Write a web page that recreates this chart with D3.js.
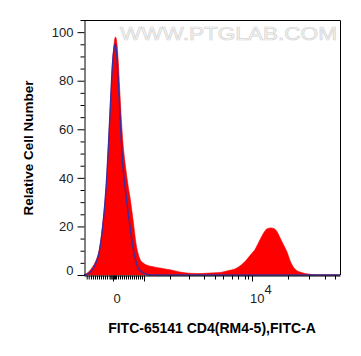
<!DOCTYPE html>
<html><head><meta charset="utf-8">
<script src="https://cdn.jsdelivr.net/npm/d3@7"></script>
<style>body{margin:0;background:#fff}svg{display:block}</style>
</head><body>
<svg id="c" width="361" height="356"></svg>
<script>
// Histogram data in display channels (0-256, biexponential FITC-A axis)
const redChannels = [0,4,8,12,15,17,19,21,22.5,24,25.5,27,28.5,30,31.5,33,34.5,36,37.5,39,40.5,42,44,46,48,50,52,54,56,59,63,68,74,81,88,96,106,116,126,136,144,151,157,162,167,171,176,180,183,187,190,193,197,200,203,206,209,213,216,221,226,232,256];
const redCounts   = [0,1,3,6,10,15,22,30,38,50,62,75,87,95,98,95,86,74,63,54,48,43,37,32,26,19.5,13,9,6.5,5,4,3.5,3,2.5,2,1.2,0.7,0.6,0.8,1,1.8,2.5,4,6,8.5,10.5,14.5,17.5,19,19.4,19.1,17.8,14.5,12,9.5,6,3.5,1.8,1.2,0.6,0.3,0,0];
const blueChannels = [0,4,8,12,15,17,19,21,23,25,27,28.5,30,31,32.5,34,35.5,37,38.5,40,42,44,46,48,50,52,54,57,61,66,256];
const blueCounts   = [0,0.5,2,5,9,14,21,30,42,58,75,87,93,95,92,82,70,57,47,40,33,26,20,14,9,5.5,3,1.5,0.5,0,0];
// Axis ticks (channel positions)
const xMajorTicks = [29, 60, 168];
const xMajorLabels = ["0", "", "10|4"];
const xMinorTicks = [2.7,4.7,7,9,11,13,15,17,19,21,23,25.5,26.5,27.5,28.5,30,31,32,34,36,38,40,42,44,46,48,50,52,54,56,58,86,105,120,131,139,148,154,161,164,204,225,241,251];
const yMajorTicks = [0,20,40,60,80,100];
const yMinorTicks = [5,10,15,25,30,35,45,50,55,65,70,75,85,90,95,105];
const xTitle = "FITC-65141 CD4(RM4-5),FITC-A";
const yTitle = "Relative Cell Number";
const watermark = "WWW.PTGLAB.COM";

const svg = d3.select("#c");
const x = d3.scaleLinear().domain([0,256]).range([84,340]);
const y = d3.scaleLinear().domain([0,105]).range([275,20]);

// watermark
svg.append("text").attr("x",120).attr("y",40)
  .attr("font-family","Liberation Sans, Arial, sans-serif").attr("font-size",17.5)
  .attr("fill","#f8f8f8").attr("stroke","#d6d6d6").attr("stroke-width",0.7)
  .attr("textLength",217).attr("lengthAdjust","spacingAndGlyphs")
  .text(watermark);

const red = redChannels.map((c,i)=>[c,redCounts[i]]);
const blue = blueChannels.map((c,i)=>[c,blueCounts[i]]);

svg.append("path").datum(red)
  .attr("d", d3.area().x(d=>x(d[0])).y0(y(0)).y1(d=>y(d[1])).curve(d3.curveMonotoneX))
  .attr("fill","#ff0000").attr("stroke","#f00000").attr("stroke-width",0.6);

svg.append("path").datum(blue)
  .attr("d", d3.line().x(d=>x(d[0])).y(d=>y(d[1])).curve(d3.curveMonotoneX))
  .attr("fill","none").attr("stroke","#3b2ca0").attr("stroke-width",1.4);

// frame
svg.append("path").attr("d",`M${x(0)},${y(105)+0.5}H${x(256)+0.5}V${y(0)}`)
  .attr("fill","none").attr("stroke","#000").attr("stroke-width",1);

// y axis
const gy = svg.append("g").attr("transform","translate(84.5,0)");
gy.call(d3.axisLeft(y).tickValues(yMajorTicks).tickSize(7).tickPadding(4).tickSizeOuter(0));
gy.append("g").call(d3.axisLeft(y).tickValues(yMinorTicks).tickSize(4).tickFormat("").tickSizeOuter(0))
  .select(".domain").remove();
gy.selectAll("text").attr("font-family","Liberation Sans, Arial, sans-serif").attr("font-size",13).attr("fill","#222");
gy.selectAll(".tick").filter(d=>d===0).select("text").attr("dy","-0.05em");
gy.selectAll("line,path").attr("stroke","#000");

// x axis
const gx = svg.append("g").attr("transform","translate(0,275.5)");
gx.call(d3.axisBottom(x).tickValues(xMajorTicks).tickSize(6).tickFormat("").tickSizeOuter(0));
gx.append("g").call(d3.axisBottom(x).tickValues(xMinorTicks).tickSize(4).tickFormat("").tickSizeOuter(0))
  .select(".domain").remove();
gx.selectAll("line,path").attr("stroke","#000");

const lab = svg.append("g").attr("font-family","Liberation Sans, Arial, sans-serif").attr("font-size",13).attr("fill","#222");
xMajorTicks.forEach((t,i)=>{
  const l = xMajorLabels[i];
  if(!l) return;
  if(l.includes("|")){
    const [b,e] = l.split("|");
    const tx = lab.append("text").attr("x",x(t)-2).attr("y",303);
    tx.append("tspan").text(b);
    tx.append("tspan").attr("dy",-9).attr("font-size",13).text(e);
  } else {
    lab.append("text").attr("x",x(t)+4).attr("y",303).attr("text-anchor","middle").text(l);
  }
});

// titles
svg.append("text").attr("x",212).attr("y",333).attr("text-anchor","middle")
  .attr("font-family","Liberation Sans, Arial, sans-serif").attr("font-weight","bold").attr("font-size",14)
  .attr("fill","#000").text(xTitle);
svg.append("text").attr("transform","translate(33,148) rotate(-90)").attr("text-anchor","middle")
  .attr("font-family","Liberation Sans, Arial, sans-serif").attr("font-weight","bold").attr("font-size",13.5)
  .attr("fill","#000").text(yTitle);
</script>
</body></html>
